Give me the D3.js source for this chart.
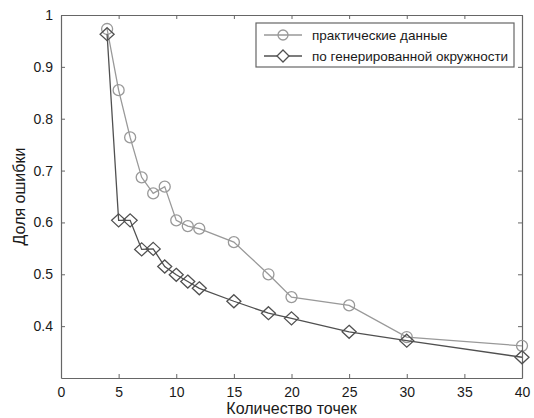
<!DOCTYPE html>
<html>
<head>
<meta charset="utf-8">
<script src="https://cdn.jsdelivr.net/npm/d3@7"></script>
<style>
  body { margin: 0; background: #fff; }
  text { font-family: "Liberation Sans", Arial, sans-serif; fill: #1a1a1a; }
</style>
</head>
<body>
<svg id="chart"></svg>
<script>
const xPoints = [4, 5, 6, 7, 8, 9, 10, 11, 12, 15, 18, 20, 25, 30, 40]
const practical = [0.973, 0.855, 0.764, 0.687, 0.656, 0.669, 0.604, 0.593, 0.588, 0.562, 0.500, 0.456, 0.440, 0.379, 0.362]
const generated = [0.963, 0.604, 0.604, 0.548, 0.549, 0.515, 0.499, 0.486, 0.473, 0.448, 0.425, 0.415, 0.389, 0.372, 0.340]
const xTicks = [0, 5, 10, 15, 20, 25, 30, 35, 40]
const yTicks = [0.4, 0.5, 0.6, 0.7, 0.8, 0.9, 1]
const seriesNames = ["практические данные", "по генерированной окружности"]

const width = 534, height = 418
const m = { left: 61, right: 12, top: 15, bottom: 40 }

const svg = d3.select("#chart").attr("width", width).attr("height", height)

const x = d3.scaleLinear().domain([0, 40]).range([m.left, width - m.right])
const y = d3.scaleLinear().domain([0.3, 1]).range([height - m.bottom, m.top])

const axisColor = "#666"

// box with inward ticks on all sides
const axBottom = svg.append("g").attr("transform", `translate(0,${height - m.bottom})`)
  .call(d3.axisBottom(x).tickValues(xTicks).tickSizeInner(-4).tickSizeOuter(0).tickPadding(9))
const axTop = svg.append("g").attr("transform", `translate(0,${m.top})`)
  .call(d3.axisTop(x).tickValues(xTicks).tickSizeInner(-4).tickSizeOuter(0).tickFormat(""))
const axLeft = svg.append("g").attr("transform", `translate(${m.left},0)`)
  .call(d3.axisLeft(y).tickValues(yTicks).tickSizeInner(-4).tickSizeOuter(0).tickPadding(8).tickFormat(d3.format("")))
const axRight = svg.append("g").attr("transform", `translate(${width - m.right},0)`)
  .call(d3.axisRight(y).tickValues(yTicks).tickSizeInner(-4).tickSizeOuter(0).tickFormat(""))

for (const g of [axBottom, axTop, axLeft, axRight]) {
  g.select(".domain").attr("stroke", axisColor).attr("stroke-width", 1.2)
  g.selectAll(".tick line").attr("stroke", axisColor)
  g.selectAll(".tick text").attr("font-size", 14).attr("fill", "#1a1a1a")
    .style("font-family", "'Liberation Sans', Arial, sans-serif")
}

svg.append("text")
  .attr("x", (m.left + width - m.right) / 2)
  .attr("y", height - 4)
  .attr("text-anchor", "middle")
  .attr("font-size", 16)
  .text("Количество точек")

svg.append("text")
  .attr("transform", `translate(25,${(m.top + height - m.bottom) / 2}) rotate(-90)`)
  .attr("text-anchor", "middle")
  .attr("font-size", 16)
  .text("Доля ошибки")

const line = d3.line().x(d => x(d[0])).y(d => y(d[1]))
const diamond = (w, h) => `M0,${-h}L${w},0L0,${h}L${-w},0Z`

const series = [
  { name: seriesNames[0], values: practical, color: "#999", marker: "circle" },
  { name: seriesNames[1], values: generated, color: "#505050", marker: "diamond" }
]

for (const s of series) {
  const pts = xPoints.map((v, i) => [v, s.values[i]])
  svg.append("path").datum(pts)
    .attr("fill", "none").attr("stroke", s.color).attr("stroke-width", 1.3)
    .attr("d", line)
  const mk = svg.append("g").selectAll("g").data(pts).enter().append("g")
    .attr("transform", d => `translate(${x(d[0])},${y(d[1])})`)
  if (s.marker === "circle") {
    mk.append("circle").attr("r", 5.5).attr("fill", "none").attr("stroke", s.color).attr("stroke-width", 1.3)
  } else {
    mk.append("path").attr("d", diamond(7, 6.5)).attr("fill", "none").attr("stroke", s.color).attr("stroke-width", 1.3)
  }
}

// legend
const lg = svg.append("g")
lg.append("rect").attr("x", 256).attr("y", 23).attr("width", 258).attr("height", 44)
  .attr("fill", "#fff").attr("stroke", "#666").attr("stroke-width", 1.2)
series.forEach((s, i) => {
  const ly = 35 + i * 21
  lg.append("line").attr("x1", 264).attr("x2", 302).attr("y1", ly).attr("y2", ly)
    .attr("stroke", s.color).attr("stroke-width", 1.3)
  if (s.marker === "circle") {
    lg.append("circle").attr("cx", 283).attr("cy", ly).attr("r", 5).attr("fill", "none")
      .attr("stroke", s.color).attr("stroke-width", 1.3)
  } else {
    lg.append("path").attr("transform", `translate(283,${ly})`).attr("d", diamond(6, 6))
      .attr("fill", "#fff").attr("stroke", s.color).attr("stroke-width", 1.3)
  }
  lg.append("text").attr("x", 312).attr("y", ly).attr("dy", "0.35em")
    .attr("font-size", 13.5).text(s.name)
})
</script>
</body>
</html>
